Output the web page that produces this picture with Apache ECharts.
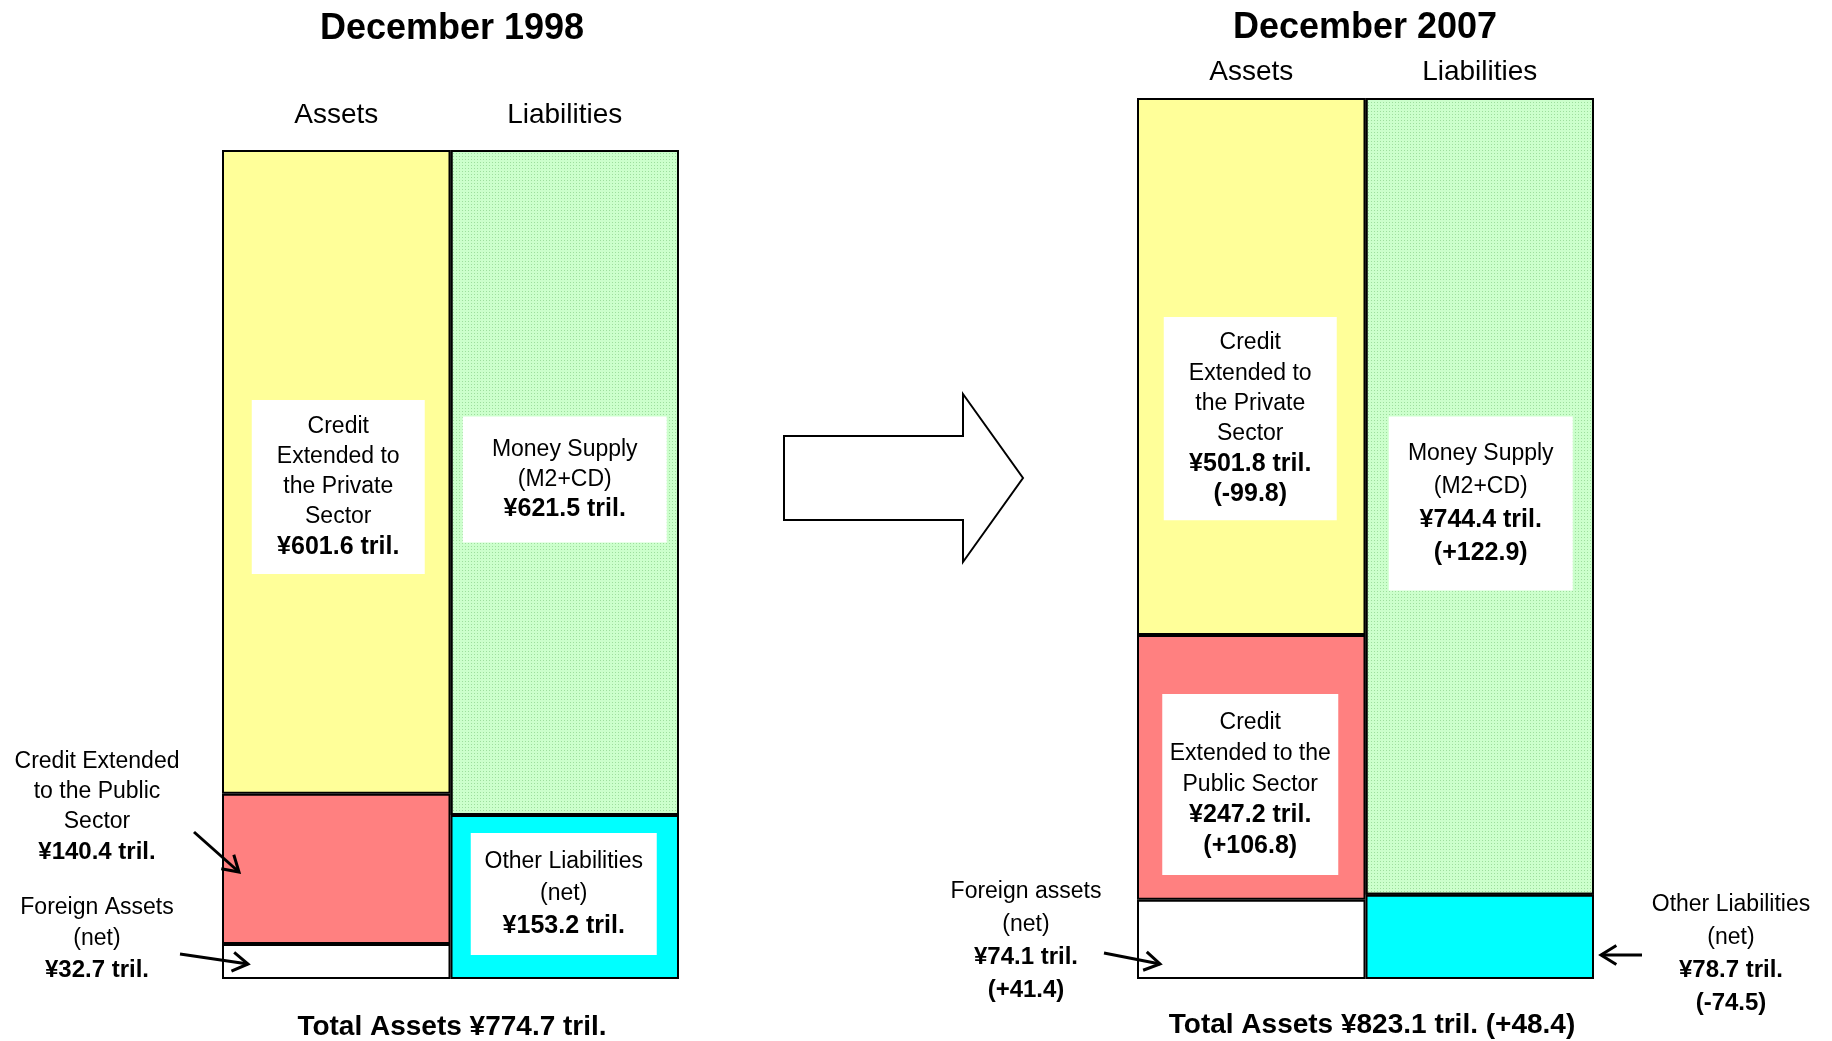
<!DOCTYPE html>
<html lang="en">
<head>
<meta charset="UTF-8">
<title>Monetary Survey 1998 / 2007</title>
<script src="https://cdn.jsdelivr.net/npm/echarts@6/dist/echarts.min.js"></script>
<style>
    html, body { margin: 0; padding: 0; background: #fff; }
    #main { width: 1832px; height: 1041px; }
</style>
</head>
<body>
<div id="main"></div>
<script>
// index 0 = December 1998, index 1 = December 2007 (yen trillions)
var years = ['December 1998', 'December 2007'];
var sides = ['Assets', 'Liabilities'];
var foreignAssets = [32.7, 74.1];
var publicCredit = [140.4, 247.2];
var privateCredit = [601.6, 501.8];
var otherLiab = [153.2, 78.7];
var moneySupply = [621.5, 744.4];
var totalAssets = [774.7, 823.1];

var FONT = '"Liberation Sans", Arial, sans-serif';

function yen(v) { return '¥' + v.toFixed(1) + ' tril.'; }
function diff(arr) {
    var d = arr[1] - arr[0];
    return '(' + (d > 0 ? '+' : '') + d.toFixed(1) + ')';
}

// white text box sitting inside a bar
function boxLabel(text, w, pad, lh, off) {
    return {
        show: true, position: 'inside', offset: off,
        formatter: text, backgroundColor: '#fff',
        width: w, padding: [pad, 0, pad, 0], align: 'center',
        color: '#000', fontFamily: FONT, fontSize: 23, lineHeight: lh,
        rich: { b: { fontFamily: FONT, fontWeight: 'bold', fontSize: 25, lineHeight: lh, color: '#000' } }
    };
}

function bar(g, side, value, color, label, decal) {
    var data = side === 0 ? [value, '-'] : ['-', value];
    var style = { color: color, borderColor: '#000', borderWidth: 2 };
    if (decal) style.decal = decal;
    return {
        type: 'bar', xAxisIndex: g, yAxisIndex: g, stack: 'g' + g,
        barWidth: '100%', barCategoryGap: '0%',
        data: data, itemStyle: style,
        label: label || { show: false },
        emphasis: { disabled: true }, silent: true
    };
}

var dots = { symbol: 'rect', symbolSize: 1, dashArrayX: [1, 2], dashArrayY: [1, 2], color: 'rgba(70,160,70,0.35)' };

var series = [
    // 1998
    bar(0, 0, foreignAssets[0], '#ffffff'),
    bar(0, 0, publicCredit[0], '#ff8080'),
    bar(0, 0, privateCredit[0], '#ffff99',
        boxLabel('Credit\nExtended to\nthe Private\nSector\n{b|' + yen(privateCredit[0]) + '}', 173, 12, 30, [2, 15])),
    bar(0, 1, otherLiab[0], '#00ffff',
        boxLabel('Other Liabilities\n(net)\n{b|' + yen(otherLiab[0]) + '}', 186, 13, 32, [-1, -3])),
    bar(0, 1, moneySupply[0], '#ccffcc',
        boxLabel('Money Supply\n(M2+CD)\n{b|' + yen(moneySupply[0]) + '}', 204, 18, 30, [0, -3]), dots),
    // 2007
    bar(1, 0, foreignAssets[1], '#ffffff'),
    bar(1, 0, publicCredit[1], '#ff8080',
        boxLabel('Credit\nExtended to the\nPublic Sector\n{b|' + yen(publicCredit[1]) + '}\n{b|' + diff(publicCredit) + '}', 176, 13, 31, [-1, 17])),
    bar(1, 0, privateCredit[1], '#ffff99',
        boxLabel('Credit\nExtended to\nthe Private\nSector\n{b|' + yen(privateCredit[1]) + '}\n{b|' + diff(privateCredit) + '}', 173, 11, 30.2, [-1, 52])),
    bar(1, 1, otherLiab[1], '#00ffff'),
    bar(1, 1, moneySupply[1], '#ccffcc',
        boxLabel('Money Supply\n(M2+CD)\n{b|' + yen(moneySupply[1]) + '}\n{b|' + diff(moneySupply) + '}', 184, 21, 33, [1, 7]), dots)
];

function axisX(g, margin) {
    return {
        gridIndex: g, type: 'category', data: sides, position: 'top',
        axisLine: { show: false }, axisTick: { show: false }, splitLine: { show: false },
        axisLabel: { color: '#000', fontFamily: FONT, fontSize: 28, margin: margin }
    };
}
function axisY(g) {
    return { gridIndex: g, type: 'value', min: 0, max: totalAssets[g], show: false };
}

function txt(x, y, text, size, bold, lh) {
    return {
        type: 'text', x: x, y: y, z: 100, silent: true,
        style: {
            text: text, fill: '#000', fontFamily: FONT, fontSize: size,
            fontWeight: bold ? 'bold' : 'normal',
            align: 'center', verticalAlign: 'middle', textAlign: 'center', textVerticalAlign: 'middle',
            lineHeight: lh || size,
            rich: { b: { fontFamily: FONT, fontSize: size + 1, fontWeight: 'bold', lineHeight: lh || size, fill: '#000' } }
        }
    };
}

function arrow(x1, y1, x2, y2) {
    var a = Math.atan2(y2 - y1, x2 - x1), h = 18, s = 0.55;
    return {
        type: 'group', z: 100, silent: true, children: [
            { type: 'line', z: 100, shape: { x1: x1, y1: y1, x2: x2, y2: y2 }, style: { stroke: '#000', lineWidth: 3 } },
            { type: 'polyline', z: 100, shape: { points: [
                [x2 - h * Math.cos(a - s), y2 - h * Math.sin(a - s)], [x2, y2],
                [x2 - h * Math.cos(a + s), y2 - h * Math.sin(a + s)]] },
              style: { stroke: '#000', lineWidth: 3, fill: null } }
        ]
    };
}

var graphics = [
    txt(452, 29, years[0], 36, true),
    txt(1365, 28, years[1], 36, true),
    {
        type: 'polygon', silent: true,
        shape: { points: [[784, 436], [963, 436], [963, 394], [1023, 478], [963, 562], [963, 520], [784, 520]] },
        style: { fill: '#fff', stroke: '#000', lineWidth: 2 }
    },
    txt(97, 807, 'Credit Extended\nto the Public\nSector\n{b|' + yen(publicCredit[0]) + '}', 23, false, 30.3),
    txt(97, 939, 'Foreign Assets\n(net)\n{b|' + yen(foreignAssets[0]) + '}', 23, false, 31),
    txt(1026, 941, 'Foreign assets\n(net)\n{b|' + yen(foreignAssets[1]) + '}\n{b|' + diff(foreignAssets) + '}', 23, false, 32.8),
    txt(1731, 954, 'Other Liabilities\n(net)\n{b|' + yen(otherLiab[1]) + '}\n{b|' + diff(otherLiab) + '}', 23, false, 32.6),
    arrow(194, 832, 239, 872),
    arrow(180, 954, 248, 964),
    arrow(1104, 953, 1160, 964),
    arrow(1642, 955, 1601, 955),
    txt(452, 1027, 'Total Assets ' + yen(totalAssets[0]), 28, true),
    txt(1372, 1025, 'Total Assets ' + yen(totalAssets[1]) + ' ' + diff(totalAssets), 28, true)
];

var chart = echarts.init(document.getElementById('main'));
chart.setOption({
    animation: false,
    backgroundColor: '#fff',
    grid: [
        { left: 222, top: 150, width: 457, bottom: 62 },
        { left: 1137, top: 98, width: 457, bottom: 62 }
    ],
    xAxis: [axisX(0, 21), axisX(1, 12)],
    yAxis: [axisY(0), axisY(1)],
    series: series,
    graphic: graphics
});
</script>
</body>
</html>
